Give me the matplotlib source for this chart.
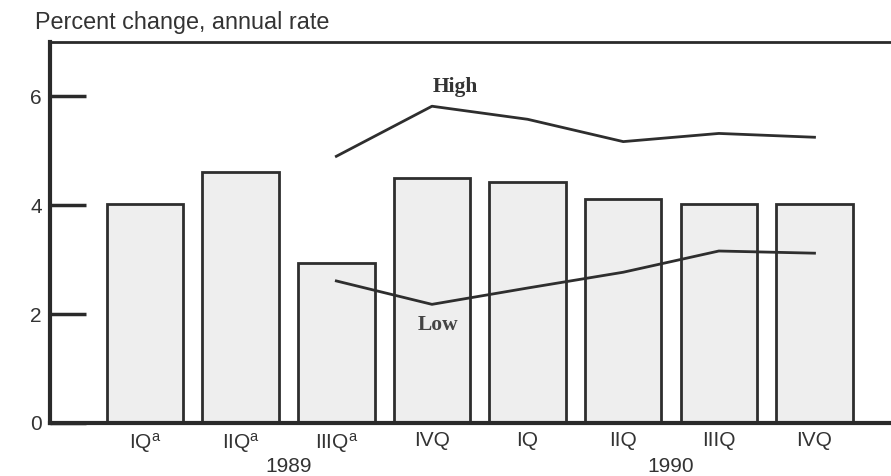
import matplotlib
matplotlib.use("Agg")
import matplotlib.pyplot as plt
from matplotlib.transforms import blended_transform_factory

plt.rcParams['font.family'] = ['Liberation Sans', 'DejaVu Sans']
plt.rcParams['mathtext.fontset'] = 'custom'
plt.rcParams['mathtext.rm'] = 'Liberation Sans'
plt.rcParams['mathtext.it'] = 'Liberation Sans'

quarters = ["IQ$^{\\rm a}$", "IIQ$^{\\rm a}$", "IIIQ$^{\\rm a}$", "IVQ", "IQ", "IIQ", "IIIQ", "IVQ"]
years = ["1989", "1990"]
bar_values = [4.02, 4.62, 2.94, 4.51, 4.42, 4.11, 4.02, 4.02]
high_values = [4.90, 5.82, 5.58, 5.17, 5.32, 5.25]
low_values = [2.61, 2.18, 2.48, 2.77, 3.16, 3.12]
band_start = 2  # index of first quarter with high/low range

fig = plt.figure(figsize=(8.91, 4.76), dpi=100)
W, H = 891, 476
ax = fig.add_axes([50 / W, 1 - 423 / H, (891 - 50) / W, (423 - 42) / H])

x = list(range(len(quarters)))
ax.bar(x, bar_values, width=0.8, color='#eeeeee', edgecolor='#2e2e2e', linewidth=2.0, zorder=2)

xb = list(range(band_start, band_start + len(high_values)))
ax.plot(xb, high_values, color='#2e2e2e', linewidth=2.0, zorder=3)
ax.plot(xb, low_values, color='#2e2e2e', linewidth=2.0, zorder=3)

ax.text(3.24, 6.17, "High", family=['Liberation Serif', 'DejaVu Serif'], fontweight='bold',
        fontsize=15.5, color='#333333', ha='center', va='center')
ax.text(3.06, 1.80, "Low", family=['Liberation Serif', 'DejaVu Serif'], fontweight='bold',
        fontsize=15.5, color='#444444', ha='center', va='center')

ax.set_xlim(-0.994, 7.80)
ax.set_ylim(0, 7)
ax.set_yticks([0, 2, 4, 6])
ax.set_xticks(x)
ax.set_xticklabels(quarters)
ax.tick_params(axis='y', direction='in', length=26, width=2.5, color='#2a2a2a',
               labelsize=15, pad=6, labelcolor='#333333')
ax.tick_params(axis='x', length=0, labelsize=15, pad=6, labelcolor='#333333')

ax.spines['right'].set_visible(False)
ax.spines['left'].set_linewidth(3)
ax.spines['bottom'].set_linewidth(3)
ax.spines['top'].set_linewidth(2)
for s in ['left', 'bottom', 'top']:
    ax.spines[s].set_color('#2a2a2a')

trans = blended_transform_factory(ax.transData, ax.transAxes)
ax.text(1.5, -0.113, years[0], transform=trans, ha='center', va='center', fontsize=15, color='#333333')
ax.text(5.5, -0.113, years[1], transform=trans, ha='center', va='center', fontsize=15, color='#333333')

fig.text(35 / W, 1 - 22 / H, "Percent change, annual rate", ha='left', va='center',
         fontsize=16.8, color='#333333')

fig.savefig("out.png", dpi=100)
